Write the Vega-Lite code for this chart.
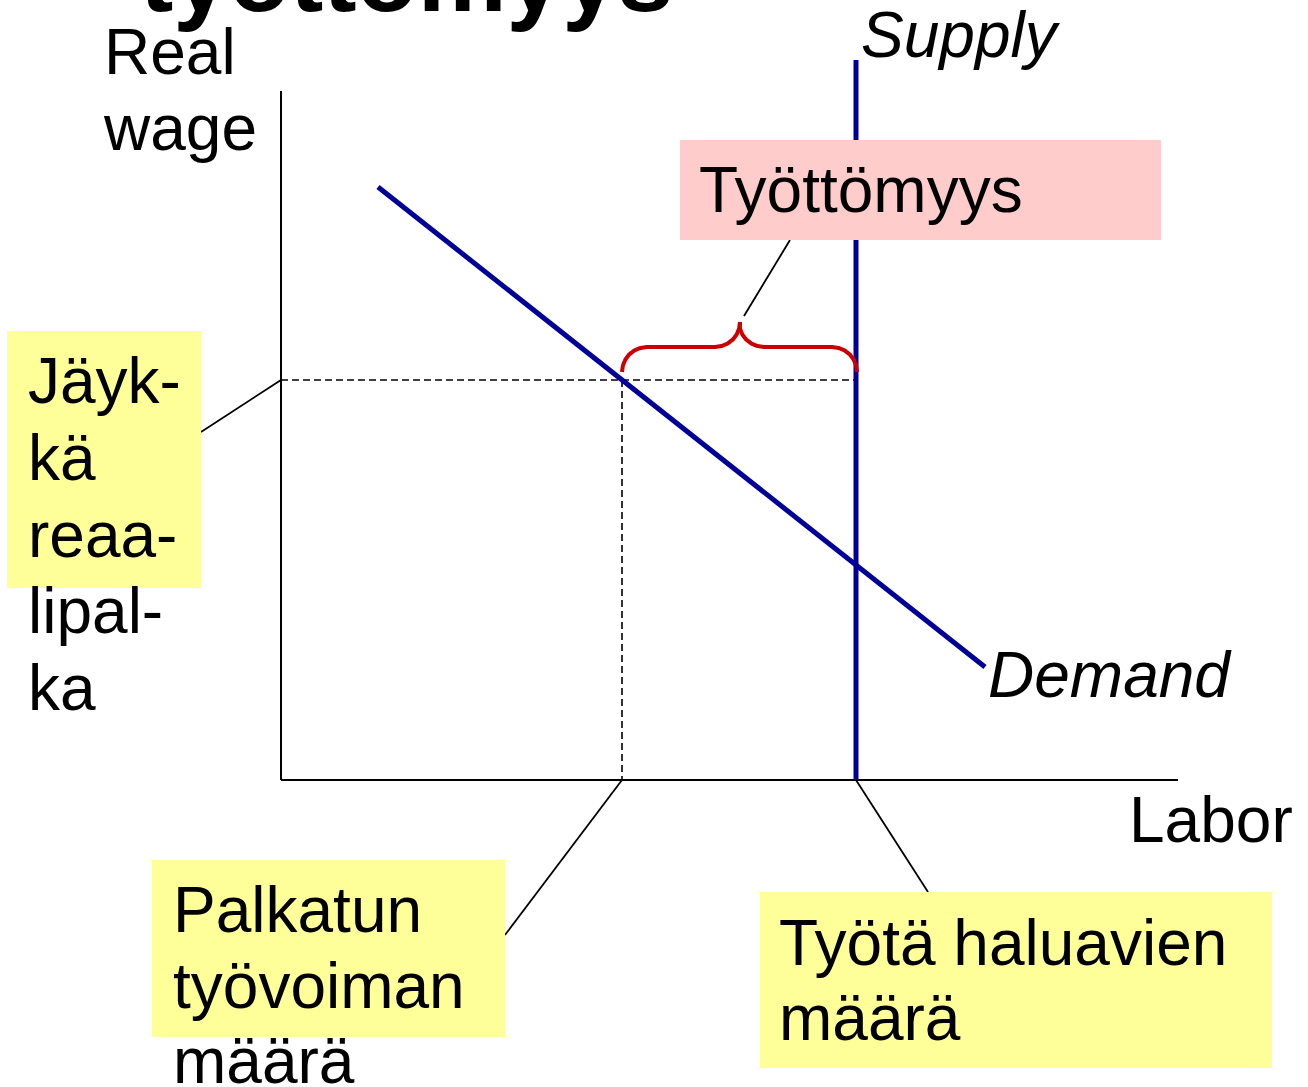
{
  "$schema": "https://vega.github.io/schema/vega-lite/v6.json",
  "autosize": {"type": "none"},
  "width": 1308,
  "height": 1087,
  "padding": 0,
  "background": "white",
  "view": {"stroke": null},
  "config": {"axis": {"disable": true}},
  "datasets": {
    "segments": [
      {"id": "wage axis", "kind": "axis", "x": 0, "y": 68.9, "x2": 0, "y2": 0},
      {"id": "labor axis", "kind": "axis", "x": 0, "y": 0, "x2": 89.7, "y2": 0},
      {"id": "rigid wage", "kind": "guide", "x": 0, "y": 40, "x2": 57.5, "y2": 40},
      {"id": "employed", "kind": "guide", "x": 34.1, "y": 40, "x2": 34.1, "y2": 0},
      {"id": "supply", "kind": "schedule", "x": 57.5, "y": 72, "x2": 57.5, "y2": 0},
      {"id": "demand", "kind": "schedule", "x": 9.7, "y": 59.3, "x2": 70.4, "y2": 11.3},
      {"id": "leader wage", "kind": "leader", "x": -8.0, "y": 34.8, "x2": 0, "y2": 40},
      {"id": "leader employed", "kind": "leader", "x": 22.4, "y": -15.5, "x2": 34.1, "y2": 0},
      {"id": "leader labour force", "kind": "leader", "x": 64.7, "y": -11.2, "x2": 57.5, "y2": 0},
      {"id": "leader unemployment", "kind": "leader", "x": 46.3, "y": 46.4, "x2": 50.9, "y2": 54.0}
    ],
    "brace": [
      {"half": "left", "i": 0, "x": 34.1, "y": 40.8},
      {"half": "left", "i": 1, "x": 34.19, "y": 41.45},
      {"half": "left", "i": 2, "x": 34.44, "y": 42.05},
      {"half": "left", "i": 3, "x": 34.83, "y": 42.57},
      {"half": "left", "i": 4, "x": 35.35, "y": 42.96},
      {"half": "left", "i": 5, "x": 35.95, "y": 43.21},
      {"half": "left", "i": 6, "x": 36.6, "y": 43.3},
      {"half": "left", "i": 7, "x": 43.4, "y": 43.3},
      {"half": "left", "i": 8, "x": 44.05, "y": 43.39},
      {"half": "left", "i": 9, "x": 44.65, "y": 43.63},
      {"half": "left", "i": 10, "x": 45.17, "y": 44.03},
      {"half": "left", "i": 11, "x": 45.57, "y": 44.55},
      {"half": "left", "i": 12, "x": 45.81, "y": 45.15},
      {"half": "left", "i": 13, "x": 45.9, "y": 45.8},
      {"half": "right", "i": 0, "x": 57.6, "y": 40.8},
      {"half": "right", "i": 1, "x": 57.51, "y": 41.45},
      {"half": "right", "i": 2, "x": 57.26, "y": 42.05},
      {"half": "right", "i": 3, "x": 56.87, "y": 42.57},
      {"half": "right", "i": 4, "x": 56.35, "y": 42.96},
      {"half": "right", "i": 5, "x": 55.75, "y": 43.21},
      {"half": "right", "i": 6, "x": 55.1, "y": 43.3},
      {"half": "right", "i": 7, "x": 48.3, "y": 43.3},
      {"half": "right", "i": 8, "x": 47.65, "y": 43.39},
      {"half": "right", "i": 9, "x": 47.05, "y": 43.63},
      {"half": "right", "i": 10, "x": 46.53, "y": 44.03},
      {"half": "right", "i": 11, "x": 46.13, "y": 44.55},
      {"half": "right", "i": 12, "x": 45.89, "y": 45.15},
      {"half": "right", "i": 13, "x": 45.9, "y": 45.8}
    ],
    "boxes": [
      {"note": "unemployment", "kind": "highlight", "x": 39.9, "x2": 88.0, "y": 64.0, "y2": 54.0},
      {"note": "rigid wage", "kind": "note", "x": -27.4, "x2": -8.0, "y": 44.9, "y2": 19.2},
      {"note": "employed", "kind": "note", "x": -12.9, "x2": 22.4, "y": -8.0, "y2": -25.7},
      {"note": "labour force", "kind": "note", "x": 47.9, "x2": 99.1, "y": -11.2, "y2": -28.8}
    ],
    "labels": [
      {"style": "title", "text": "työttömyys", "x": -14.1, "y": 76.9},
      {"style": "plain", "text": "Real", "x": -17.7, "y": 70.6},
      {"style": "plain", "text": "wage", "x": -17.7, "y": 63.0},
      {"style": "italic", "text": "Supply", "x": 58.0, "y": 72.3},
      {"style": "plain", "text": "Työttömyys", "x": 41.8, "y": 56.8},
      {"style": "plain", "text": "Jäyk-", "x": -25.3, "y": 37.7},
      {"style": "plain", "text": "kä", "x": -25.3, "y": 30.0},
      {"style": "plain", "text": "reaa-", "x": -25.3, "y": 22.3},
      {"style": "plain", "text": "lipal-", "x": -25.3, "y": 14.7},
      {"style": "plain", "text": "ka", "x": -25.3, "y": 7.0},
      {"style": "italic", "text": "Demand", "x": 70.7, "y": 8.3},
      {"style": "plain", "text": "Labor", "x": 84.8, "y": -6.2},
      {"style": "plain", "text": "Palkatun", "x": -10.8, "y": -15.2},
      {"style": "plain", "text": "työvoiman", "x": -10.8, "y": -22.8},
      {"style": "plain", "text": "määrä", "x": -10.8, "y": -30.3},
      {"style": "plain", "text": "Työtä haluavien", "x": 49.8, "y": -18.5},
      {"style": "plain", "text": "määrä", "x": 49.8, "y": -26.0}
    ]
  },
  "layer": [
    {
      "data": {"name": "segments"},
      "transform": [{"filter": "datum.kind === 'axis'"}],
      "mark": {"type": "rule", "color": "black", "strokeWidth": 2},
      "encoding": {
        "x": {"field": "x", "type": "quantitative", "scale": {"domain": [-28.1, 102.7], "nice": false, "zero": false}, "axis": null},
        "y": {"field": "y", "type": "quantitative", "scale": {"domain": [-30.7, 78.0], "nice": false, "zero": false}, "axis": null},
        "x2": {"field": "x2"},
        "y2": {"field": "y2"}
      }
    },
    {
      "data": {"name": "segments"},
      "transform": [{"filter": "datum.kind === 'guide'"}],
      "mark": {"type": "rule", "color": "black", "strokeWidth": 1.6, "strokeDash": [7, 4]},
      "encoding": {
        "x": {"field": "x", "type": "quantitative", "scale": {"domain": [-28.1, 102.7], "nice": false, "zero": false}, "axis": null},
        "y": {"field": "y", "type": "quantitative", "scale": {"domain": [-30.7, 78.0], "nice": false, "zero": false}, "axis": null},
        "x2": {"field": "x2"},
        "y2": {"field": "y2"}
      }
    },
    {
      "data": {"name": "segments"},
      "transform": [{"filter": "datum.kind === 'leader'"}],
      "mark": {"type": "rule", "color": "black", "strokeWidth": 1.8},
      "encoding": {
        "x": {"field": "x", "type": "quantitative", "scale": {"domain": [-28.1, 102.7], "nice": false, "zero": false}, "axis": null},
        "y": {"field": "y", "type": "quantitative", "scale": {"domain": [-30.7, 78.0], "nice": false, "zero": false}, "axis": null},
        "x2": {"field": "x2"},
        "y2": {"field": "y2"}
      }
    },
    {
      "data": {"name": "segments"},
      "transform": [{"filter": "datum.kind === 'schedule'"}],
      "mark": {"type": "rule", "color": "#000099", "strokeWidth": 5},
      "encoding": {
        "x": {"field": "x", "type": "quantitative", "scale": {"domain": [-28.1, 102.7], "nice": false, "zero": false}, "axis": null},
        "y": {"field": "y", "type": "quantitative", "scale": {"domain": [-30.7, 78.0], "nice": false, "zero": false}, "axis": null},
        "x2": {"field": "x2"},
        "y2": {"field": "y2"}
      }
    },
    {
      "data": {"name": "brace"},
      "mark": {"type": "line", "color": "#CC0000", "strokeWidth": 4, "strokeJoin": "round"},
      "encoding": {
        "x": {"field": "x", "type": "quantitative", "scale": {"domain": [-28.1, 102.7], "nice": false, "zero": false}, "axis": null},
        "y": {"field": "y", "type": "quantitative", "scale": {"domain": [-30.7, 78.0], "nice": false, "zero": false}, "axis": null},
        "detail": {"field": "half", "type": "nominal"},
        "order": {"field": "i", "type": "quantitative"}
      }
    },
    {
      "data": {"name": "boxes"},
      "mark": {"type": "rect"},
      "encoding": {
        "x": {"field": "x", "type": "quantitative", "scale": {"domain": [-28.1, 102.7], "nice": false, "zero": false}, "axis": null},
        "y": {"field": "y", "type": "quantitative", "scale": {"domain": [-30.7, 78.0], "nice": false, "zero": false}, "axis": null},
        "x2": {"field": "x2"},
        "y2": {"field": "y2"},
        "color": {"field": "kind", "type": "nominal", "scale": {"domain": ["highlight", "note"], "range": ["#FFCCCC", "#FFFF99"]}, "legend": null}
      }
    },
    {
      "data": {"name": "labels"},
      "transform": [{"filter": "datum.style === 'plain'"}],
      "mark": {"type": "text", "align": "left", "baseline": "alphabetic", "font": "Liberation Sans", "fontSize": 64, "color": "black"},
      "encoding": {
        "x": {"field": "x", "type": "quantitative", "scale": {"domain": [-28.1, 102.7], "nice": false, "zero": false}, "axis": null},
        "y": {"field": "y", "type": "quantitative", "scale": {"domain": [-30.7, 78.0], "nice": false, "zero": false}, "axis": null},
        "text": {"field": "text"}
      }
    },
    {
      "data": {"name": "labels"},
      "transform": [{"filter": "datum.style === 'italic'"}],
      "mark": {"type": "text", "align": "left", "baseline": "alphabetic", "font": "Liberation Sans", "fontSize": 64, "fontStyle": "italic", "color": "black"},
      "encoding": {
        "x": {"field": "x", "type": "quantitative", "scale": {"domain": [-28.1, 102.7], "nice": false, "zero": false}, "axis": null},
        "y": {"field": "y", "type": "quantitative", "scale": {"domain": [-30.7, 78.0], "nice": false, "zero": false}, "axis": null},
        "text": {"field": "text"}
      }
    },
    {
      "data": {"name": "labels"},
      "transform": [{"filter": "datum.style === 'title'"}],
      "mark": {"type": "text", "align": "left", "baseline": "alphabetic", "font": "Liberation Sans", "fontSize": 100, "fontWeight": "bold", "color": "black"},
      "encoding": {
        "x": {"field": "x", "type": "quantitative", "scale": {"domain": [-28.1, 102.7], "nice": false, "zero": false}, "axis": null},
        "y": {"field": "y", "type": "quantitative", "scale": {"domain": [-30.7, 78.0], "nice": false, "zero": false}, "axis": null},
        "text": {"field": "text"}
      }
    }
  ]
}
